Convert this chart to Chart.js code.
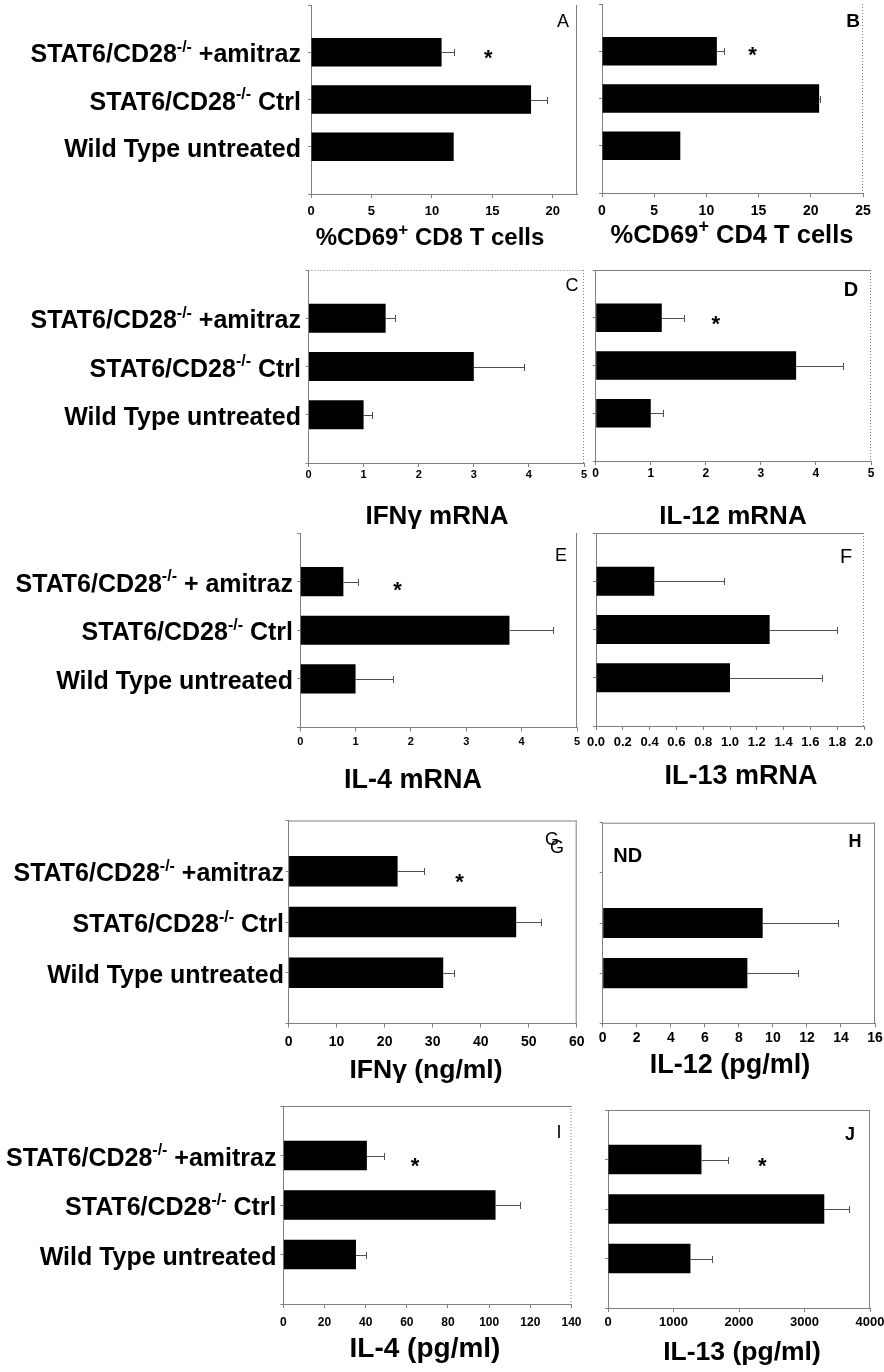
<!DOCTYPE html>
<html>
<head>
<meta charset="utf-8">
<script src="https://cdn.jsdelivr.net/npm/chart.js@4/dist/chart.umd.min.js"></script>
<style>
  body { margin: 0; background: #fff; }
  #fig { position: relative; width: 884px; height: 1372px; background: #fff; overflow: hidden; }
  #fig canvas { position: absolute; }
</style>
</head>
<body>
<div id="fig"></div>
<script>
// category labels, text between ^...^ is drawn as superscript
const groups = ["STAT6/CD28^-/-^ +amitraz", "STAT6/CD28^-/-^ Ctrl", "Wild Type untreated"];
const groupsE = ["STAT6/CD28^-/-^ + amitraz", "STAT6/CD28^-/-^ Ctrl", "Wild Type untreated"];

// A: %CD69+ CD8 T cells
const cd8Values = [10.8, 18.2, 11.8];
const cd8Errors = [1.0, 1.3, 0];
const cd8Ticks = [0, 5, 10, 15, 20];
// B: %CD69+ CD4 T cells
const cd4Values = [11.0, 20.8, 7.5];
const cd4Errors = [0.7, 0.1, 0];
const cd4Ticks = [0, 5, 10, 15, 20, 25];
// C: IFNg mRNA
const ifnMrnaValues = [1.40, 3.00, 1.00];
const ifnMrnaErrors = [0.17, 0.91, 0.16];
// D: IL-12 mRNA
const il12MrnaValues = [1.20, 3.64, 1.00];
const il12MrnaErrors = [0.41, 0.86, 0.22];
// E: IL-4 mRNA
const il4MrnaValues = [0.78, 3.78, 1.00];
const il4MrnaErrors = [0.27, 0.78, 0.68];
const mrnaTicks = [0, 1, 2, 3, 4, 5];
// F: IL-13 mRNA
const il13MrnaValues = [0.435, 1.296, 1.00];
const il13MrnaErrors = [0.52, 0.505, 0.69];
const il13MrnaTicks = [0, 0.2, 0.4, 0.6, 0.8, 1.0, 1.2, 1.4, 1.6, 1.8, 2.0];
// G: IFNg (ng/ml)
const ifnValues = [22.7, 47.4, 32.2];
const ifnErrors = [5.5, 5.1, 2.3];
const ifnTicks = [0, 10, 20, 30, 40, 50, 60];
// H: IL-12 (pg/ml), amitraz not detected
const il12Values = [null, 9.4, 8.5];
const il12Errors = [0, 4.45, 2.95];
const il12Ticks = [0, 2, 4, 6, 8, 10, 12, 14, 16];
// I: IL-4 (pg/ml)
const il4Values = [40.6, 103.1, 35.3];
const il4Errors = [8.2, 12.0, 4.9];
const il4Ticks = [0, 20, 40, 60, 80, 100, 120, 140];
// J: IL-13 (pg/ml)
const il13Values = [1427, 3302, 1259];
const il13Errors = [407, 382, 331];
const il13Ticks = [0, 1000, 2000, 3000, 4000];

const FONT = '"Liberation Sans", Arial, Helvetica, sans-serif';
const AXIS = "#808080";
Chart.defaults.font.family = FONT;

// panel layout (page pixels): box = canvas, plot = [left, top, right, bottom]
const panels = [
  { id: "A", box: [0, 0, 590, 260], plot: [311, 5, 577, 194], left: true, cats: groups, labelRight: 301,
    values: cd8Values, errors: cd8Errors, ticks: cd8Ticks, max: 22, tickSize: 13, tickPad: 6,
    title: "%CD69^+^ CD8 T cells", titleXY: [430, 236], titleSize: 24,
    letters: [["A", 563, 22]], letterFont: "18px", star: [0, 14.66, 0],
    frame: { left: "solid", top: null, right: "solid" } },
  { id: "B", box: [585, 0, 299, 260], plot: [602, 4, 863, 193], cats: groups,
    values: cd4Values, errors: cd4Errors, ticks: cd4Ticks, max: 25, tickSize: 14, tickPad: 6,
    title: "%CD69^+^ CD4 T cells", titleXY: [732, 234], titleSize: 25.5,
    letters: [["B", 853, 22]], letterFont: "bold 19px", star: [0, 14.43, -2],
    frame: { left: "dot", top: null, right: "dot" } },
  { id: "C", box: [0, 260, 590, 270], plot: [308.5, 270, 584, 463], left: true, cats: groups, labelRight: 301,
    values: ifnMrnaValues, errors: ifnMrnaErrors, ticks: mrnaTicks, max: 5, tickSize: 11, tickPad: 1,
    title: "IFN\u03b3 mRNA", titleXY: [437, 515], titleSize: 26,
    letters: [["C", 572, 286]], letterFont: "18px", star: null,
    frame: { left: "dot", top: "dot", right: "dot" } },
  { id: "D", box: [585, 260, 299, 270], plot: [595.7, 270, 871, 461], cats: groups,
    values: il12MrnaValues, errors: il12MrnaErrors, ticks: mrnaTicks, max: 5, tickSize: 12, tickPad: 1,
    title: "IL-12 mRNA", titleXY: [733, 515], titleSize: 26,
    letters: [["D", 851, 290]], letterFont: "bold 20px", star: [0, 2.18, 1],
    frame: { left: "solid", top: "solid", right: "dot" } },
  { id: "E", box: [0, 525, 590, 275], plot: [300.2, 533, 577, 727.5], left: true, cats: groupsE, labelRight: 293,
    values: il4MrnaValues, errors: il4MrnaErrors, ticks: mrnaTicks, max: 5, tickSize: 11, tickPad: 4,
    title: "IL-4 mRNA", titleXY: [413, 778], titleSize: 27,
    letters: [["E", 561, 556]], letterFont: "18px", star: [0, 1.76, 3],
    frame: { left: "dot", top: null, right: "solid" } },
  { id: "F", box: [585, 525, 299, 275], plot: [596, 533, 864, 726], cats: groupsE,
    values: il13MrnaValues, errors: il13MrnaErrors, ticks: il13MrnaTicks, max: 2, tickSize: 13, tickPad: 5, decimals: 1,
    title: "IL-13 mRNA", titleXY: [741, 774], titleSize: 27,
    letters: [["F", 846, 557]], letterFont: "20px", star: null,
    frame: { left: "solid", top: "solid", right: "dot" } },
  { id: "G", box: [0, 805, 590, 280], plot: [288.6, 820.5, 576.7, 1023.5], left: true, cats: groups, labelRight: 284,
    values: ifnValues, errors: ifnErrors, ticks: ifnTicks, max: 60, tickSize: 14, tickPad: 6,
    title: "IFN\u03b3 (ng/ml)", titleXY: [426, 1068], titleSize: 26.5,
    letters: [["G", 552, 840], ["G", 557, 848]], letterFont: "18px", star: [0, 35.6, 5],
    frame: { left: "solid", top: "solid", right: "solid" } },
  { id: "H", box: [585, 805, 299, 280], plot: [602.7, 822.7, 875, 1023.3], cats: groups,
    values: il12Values, errors: il12Errors, ticks: il12Ticks, max: 16, tickSize: 14, tickPad: 2,
    title: "IL-12 (pg/ml)", titleXY: [730, 1063], titleSize: 27,
    letters: [["H", 855, 842]], letterFont: "bold 18px", star: null, nd: [0, 1.47, -16],
    frame: { left: "solid", top: "solid", right: "solid" } },
  { id: "I", box: [0, 1090, 590, 282], plot: [283.3, 1106, 571.5, 1304], left: true, cats: groups, labelRight: 276.5,
    values: il4Values, errors: il4Errors, ticks: il4Ticks, max: 140, tickSize: 12, tickPad: 7,
    title: "IL-4 (pg/ml)", titleXY: [425, 1347], titleSize: 28,
    letters: [["I", 559, 1133]], letterFont: "18px", star: [0, 64, 5],
    frame: { left: "solid", top: "solid", right: "dot" } },
  { id: "J", box: [585, 1090, 299, 282], plot: [608, 1110, 870, 1308], cats: groups,
    values: il13Values, errors: il13Errors, ticks: il13Ticks, max: 4000, tickSize: 13, tickPad: 3,
    title: "IL-13 (pg/ml)", titleXY: [742, 1350], titleSize: 26.5,
    letters: [["J", 850, 1135]], letterFont: "bold 18px", star: [0, 2354, 1],
    frame: { left: "dot", top: "solid", right: "solid" } }
];

// text with ^superscript^ parts
function drawRich(ctx, text, x, yMid, size, align, supScale) {
  const parts = text.split("^").map((t, i) => ({ t: t, sup: i % 2 === 1 }));
  const supSize = Math.round(size * (supScale || 0.62));
  let w = 0;
  parts.forEach(p => {
    ctx.font = "bold " + (p.sup ? supSize : size) + "px " + FONT;
    p.w = ctx.measureText(p.t).width;
    w += p.w;
  });
  let cx = align === "right" ? x - w : align === "center" ? x - w / 2 : x;
  const base = yMid + size * 0.36;
  ctx.textAlign = "left";
  ctx.textBaseline = "alphabetic";
  parts.forEach(p => {
    ctx.font = "bold " + (p.sup ? supSize : size) + "px " + FONT;
    ctx.fillText(p.t, cx, p.sup ? base - size * 0.42 : base);
    cx += p.w;
  });
}

function decoPlugin(p) {
  return {
    id: "deco" + p.id,
    afterDatasetsDraw(chart) {
      const ctx = chart.ctx, xs = chart.scales.x, ys = chart.scales.y;
      ctx.save();
      ctx.strokeStyle = "#505050";
      ctx.lineWidth = 1;
      p.values.forEach((v, i) => {
        if (v == null || !p.errors[i]) return;
        const y = Math.round(ys.getPixelForValue(i + 1)) + 0.5;
        const x0 = xs.getPixelForValue(v);
        const x1 = Math.round(xs.getPixelForValue(v + p.errors[i])) + 0.5;
        ctx.beginPath();
        ctx.moveTo(x0, y); ctx.lineTo(x1, y);
        ctx.moveTo(x1, y - 3.5); ctx.lineTo(x1, y + 3.5);
        ctx.stroke();
      });
      ctx.restore();
    },
    afterDraw(chart) {
      const ctx = chart.ctx, a = chart.chartArea, xs = chart.scales.x, ys = chart.scales.y;
      const ox = p.box[0], oy = p.box[1];
      ctx.save();
      // top / right frame lines
      ctx.strokeStyle = AXIS;
      ctx.lineWidth = 1;
      if (p.frame.top) {
        ctx.setLineDash(p.frame.top === "dot" ? [1, 2] : []);
        ctx.beginPath(); ctx.moveTo(a.left, a.top + 0.5); ctx.lineTo(a.right, a.top + 0.5); ctx.stroke();
      }
      if (p.frame.right) {
        ctx.setLineDash(p.frame.right === "dot" ? [1, 2] : []);
        ctx.beginPath(); ctx.moveTo(a.right - 0.5, a.top); ctx.lineTo(a.right - 0.5, a.bottom); ctx.stroke();
      }
      ctx.setLineDash([]);
      ctx.fillStyle = "#000";
      // group labels on the left panels
      if (p.left) {
        p.cats.forEach((c, i) => drawRich(ctx, c, p.labelRight - ox, ys.getPixelForValue(i + 1) + 1, 25, "right", 0.62));
      }
      // axis title
      drawRich(ctx, p.title, p.titleXY[0] - ox, p.titleXY[1] - oy, p.titleSize, "center", 0.7);
      // panel letter
      ctx.font = p.letterFont + " " + FONT;
      ctx.textAlign = "center";
      ctx.textBaseline = "middle";
      p.letters.forEach(l => ctx.fillText(l[0], l[1] - ox, l[2] - oy));
      // significance star
      if (p.star) {
        ctx.font = "bold 22px " + FONT;
        ctx.textBaseline = "alphabetic";
        ctx.fillText("*", xs.getPixelForValue(p.star[1]), ys.getPixelForValue(p.star[0] + 1) + p.star[2] + 12.5);
      }
      if (p.nd) {
        ctx.font = "bold 20px " + FONT;
        ctx.textBaseline = "middle";
        ctx.fillText("ND", xs.getPixelForValue(p.nd[1]), ys.getPixelForValue(p.nd[0] + 1) + p.nd[2]);
      }
      ctx.restore();
    }
  };
}

const fig = document.getElementById("fig");

function makeChart(p) {
  const cv = document.createElement("canvas");
  cv.width = p.box[2];
  cv.height = p.box[3];
  cv.style.left = p.box[0] + "px";
  cv.style.top = p.box[1] + "px";
  fig.appendChild(cv);

  new Chart(cv, {
    type: "bar",
    data: {
      labels: ["", ...p.cats, ""],
      datasets: [{
        data: [null, ...p.values, null],
        backgroundColor: "#000",
        borderWidth: 0,
        barPercentage: 0.6,
        categoryPercentage: 1
      }]
    },
    options: {
      indexAxis: "y",
      responsive: false,
      animation: false,
      devicePixelRatio: 1,
      layout: { padding: { top: p.plot[1] - p.box[1], right: p.box[0] + p.box[2] - p.plot[2], left: 0, bottom: 0 } },
      plugins: { legend: { display: false }, tooltip: { enabled: false } },
      scales: {
        x: {
          type: "linear",
          min: 0,
          max: p.max,
          bounds: "data",
          afterBuildTicks: s => { s.ticks = p.ticks.map(v => ({ value: v })); },
          afterFit: s => { s.height = p.box[1] + p.box[3] - p.plot[3]; s.paddingLeft = 0; s.paddingRight = 0; },
          grid: { drawOnChartArea: false, drawTicks: true, tickLength: 4, color: AXIS },
          border: { color: AXIS },
          ticks: {
            color: "#000",
            padding: p.tickPad,
            maxRotation: 0,
            autoSkip: false,
            font: { size: p.tickSize, weight: "bold" },
            callback: v => (p.decimals ? Number(v).toFixed(p.decimals) : v)
          }
        },
        y: {
          type: "category",
          offset: false,
          afterFit: s => { s.width = p.plot[0] - p.box[0]; s.paddingTop = 0; s.paddingBottom = 0; },
          grid: { offset: false, drawOnChartArea: false, drawTicks: true, tickLength: 3, color: AXIS },
          border: { color: AXIS, dash: p.frame.left === "dot" ? [1, 2] : [] },
          ticks: { display: false }
        }
      }
    },
    plugins: [decoPlugin(p)]
  });
}

panels.forEach(makeChart);
</script>
</body>
</html>
